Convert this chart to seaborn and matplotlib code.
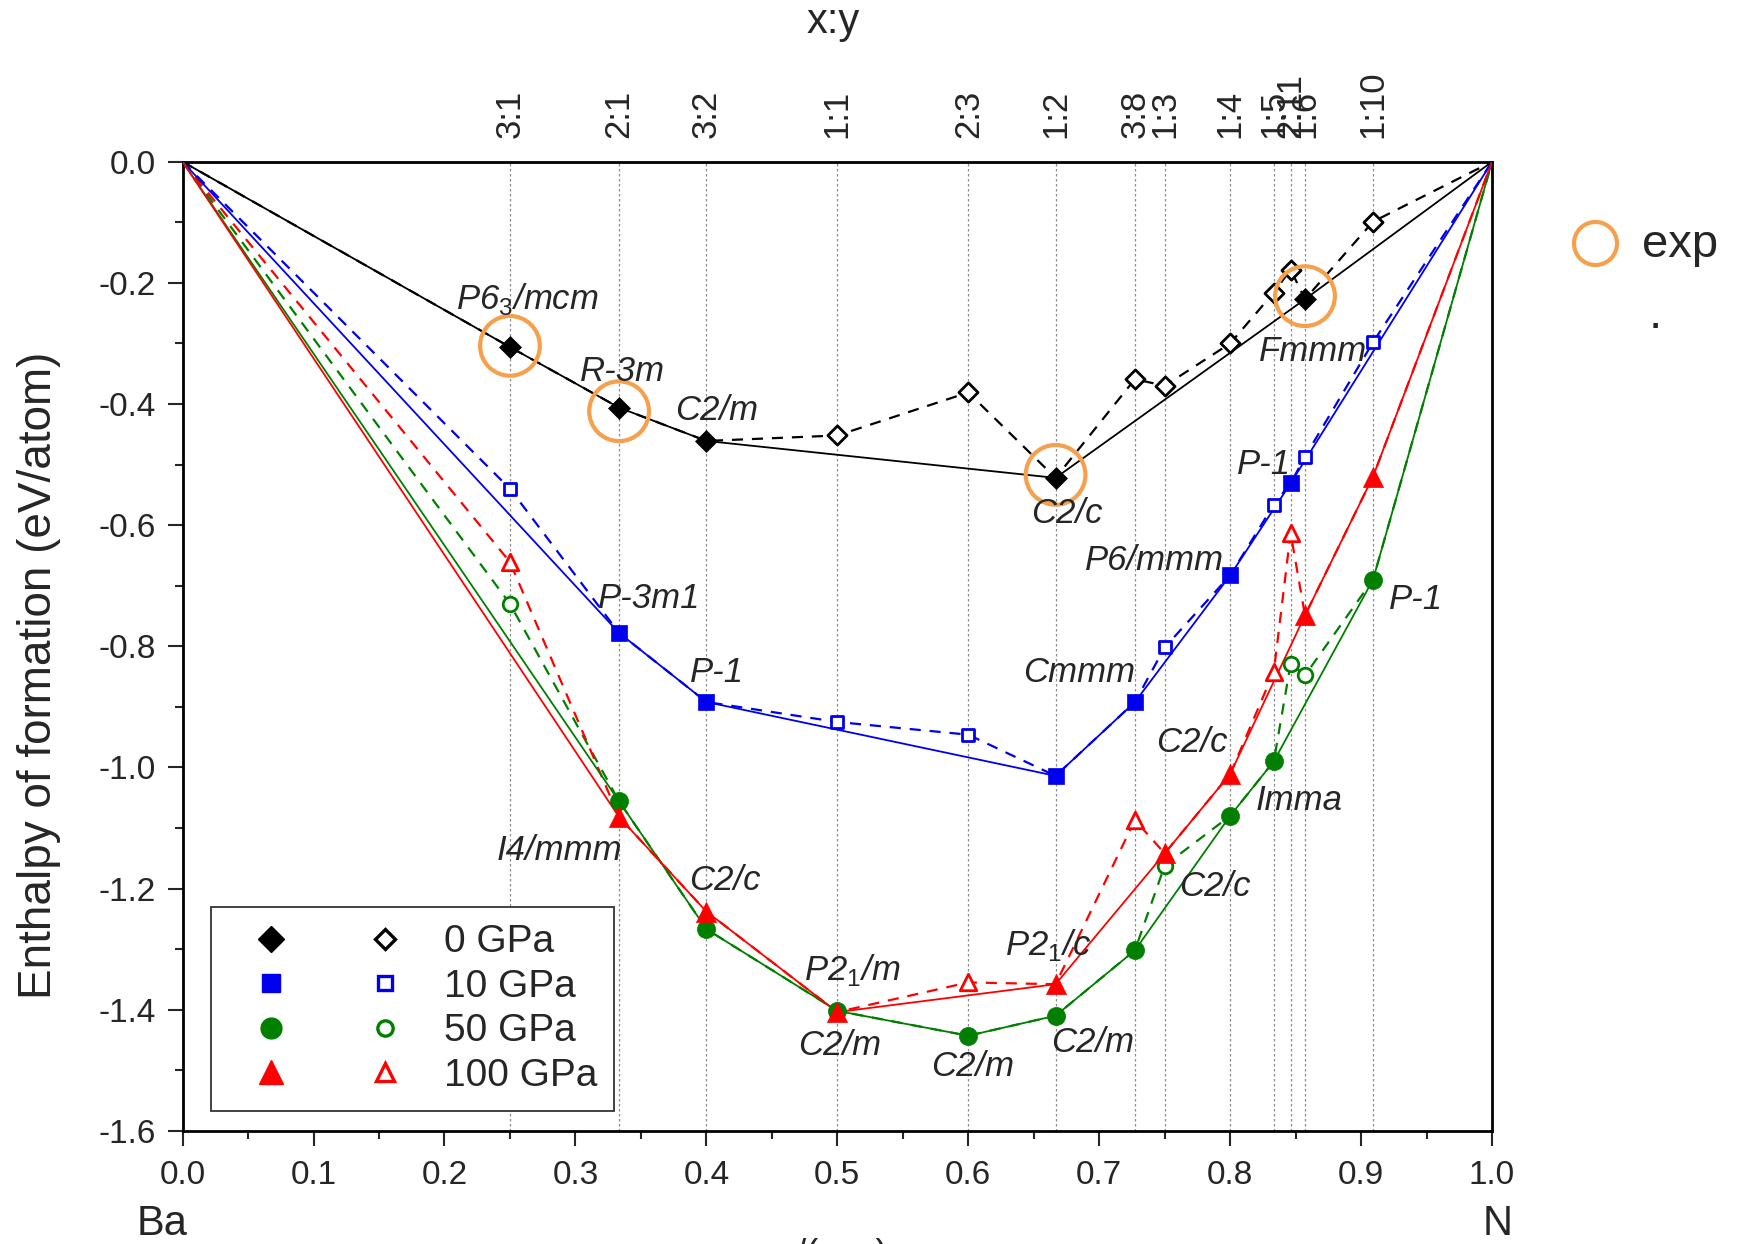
import numpy as np
import pandas as pd
import matplotlib.pyplot as plt
import seaborn as sns
from matplotlib.lines import Line2D
from matplotlib.legend_handler import HandlerTuple

# compositions N/(Ba+N) and their Ba:N ratios (top axis)
comp_x = [0.25, 1/3, 0.4, 0.5, 0.6, 2/3, 8/11, 0.75, 0.8, 5/6, 11/13, 6/7, 10/11]
comp_labels = ['3:1', '2:1', '3:2', '1:1', '2:3', '1:2', '3:8', '1:3', '1:4', '1:5', '2:11', '1:6', '1:10']

# elemental end points
ends_x = [0.0, 1.0]
ends_y = [0.0, 0.0]

# 0 GPa
gpa0_stable_x = [0.25, 1/3, 0.4, 2/3, 6/7]
gpa0_stable_y = [-0.306, -0.406, -0.461, -0.522, -0.227]
gpa0_meta_x = [0.5, 0.6, 8/11, 0.75, 0.8, 5/6, 11/13, 10/11]
gpa0_meta_y = [-0.452, -0.381, -0.359, -0.370, -0.300, -0.216, -0.178, -0.099]

# 10 GPa
gpa10_stable_x = [1/3, 0.4, 2/3, 8/11, 0.8, 11/13]
gpa10_stable_y = [-0.778, -0.892, -1.014, -0.892, -0.683, -0.531]
gpa10_meta_x = [0.25, 0.5, 0.6, 0.75, 5/6, 6/7, 10/11]
gpa10_meta_y = [-0.540, -0.925, -0.946, -0.802, -0.566, -0.487, -0.298]

# 50 GPa
gpa50_stable_x = [1/3, 0.4, 0.5, 0.6, 2/3, 8/11, 0.8, 5/6, 10/11]
gpa50_stable_y = [-1.056, -1.267, -1.402, -1.443, -1.410, -1.302, -1.080, -0.990, -0.690]
gpa50_meta_x = [0.25, 0.75, 11/13, 6/7]
gpa50_meta_y = [-0.730, -1.162, -0.829, -0.848]

# 100 GPa
gpa100_stable_x = [1/3, 0.4, 0.5, 2/3, 0.75, 0.8, 6/7, 10/11]
gpa100_stable_y = [-1.082, -1.238, -1.404, -1.358, -1.142, -1.011, -0.749, -0.520]
gpa100_meta_x = [0.25, 0.6, 8/11, 5/6, 11/13]
gpa100_meta_y = [-0.661, -1.355, -1.087, -0.842, -0.613]

# experimentally known phases
exp_x = [0.25, 1/3, 2/3, 6/7]
exp_y = [-0.304, -0.412, -0.517, -0.222]

# space-group labels: text, x, y
phase_labels = [
    ('P6$_3$/mcm', 0.263, -0.227), ('R-3m', 0.336, -0.346), ('C2/m', 0.408, -0.410),
    ('C2/c', 0.675, -0.580), ('Fmmm', 0.863, -0.313),
    ('P-3m1', 0.356, -0.721), ('P-1', 0.408, -0.844), ('Cmmm', 0.685, -0.844),
    ('P6/mmm', 0.742, -0.659), ('P-1', 0.826, -0.500),
    ('I4/mmm', 0.288, -1.137), ('C2/c', 0.414, -1.186), ('P2$_1$/m', 0.511, -1.335),
    ('C2/m', 0.502, -1.459), ('C2/m', 0.603, -1.494), ('P2$_1$/c', 0.661, -1.294),
    ('C2/m', 0.695, -1.455), ('C2/c', 0.788, -1.197), ('C2/c', 0.771, -0.959),
    ('Imma', 0.853, -1.054), ('P-1', 0.942, -0.723),
]

sns.set_style('white')
plt.rcParams['font.family'] = ['Liberation Sans', 'DejaVu Sans']
plt.rcParams['mathtext.fontset'] = 'custom'
plt.rcParams['mathtext.rm'] = 'Liberation Sans'
plt.rcParams['axes.unicode_minus'] = False

fig = plt.figure(figsize=(17.39, 12.44), dpi=100)
ax = fig.add_axes([0.105, 0.091, 0.753, 0.779])

for cx in comp_x:
    ax.axvline(cx, color='0.55', ls=(0, (2, 2)), lw=0.9, zorder=0)

series = [
    ('0 GPa', gpa0_stable_x, gpa0_stable_y, gpa0_meta_x, gpa0_meta_y, 'black', 'D', 125, 95),
    ('10 GPa', gpa10_stable_x, gpa10_stable_y, gpa10_meta_x, gpa10_meta_y, '#0000ee', 's', 125, 80),
    ('50 GPa', gpa50_stable_x, gpa50_stable_y, gpa50_meta_x, gpa50_meta_y, '#007f00', 'o', 170, 110),
    ('100 GPa', gpa100_stable_x, gpa100_stable_y, gpa100_meta_x, gpa100_meta_y, '#ff0000', '^', 210, 140),
]

handles = []
labels = []
for name, sx, sy, mx, my, col, mk, s_full, s_open in series:
    solid = pd.DataFrame({'x': ends_x + sx, 'y': ends_y + sy}).sort_values('x')
    dashed = pd.DataFrame({'x': ends_x + sx + mx, 'y': ends_y + sy + my}).sort_values('x')
    sns.lineplot(data=dashed, x='x', y='y', color=col, lw=1.6, linestyle=(0, (5, 4)),
                 sort=True, estimator=None, ax=ax, zorder=2)
    sns.lineplot(data=solid, x='x', y='y', color=col, lw=1.3,
                 sort=True, estimator=None, ax=ax, zorder=3)
    sns.scatterplot(x=sx, y=sy, marker=mk, s=s_full, color=col, edgecolor=col,
                    linewidth=0.5, ax=ax, zorder=4)
    sns.scatterplot(x=mx, y=my, marker=mk, s=s_open, facecolor='white', edgecolor=col,
                    linewidth=2.0, ax=ax, zorder=4)
    h_full = Line2D([], [], ls='none', marker=mk, ms=np.sqrt(s_full) * 1.15, color=col, mec=col)
    h_open = Line2D([], [], ls='none', marker=mk, ms=np.sqrt(s_open) * 1.05, mfc='white', mec=col, mew=2.4)
    handles.append((h_full, h_open))
    labels.append(name)

orange = '#f6a04d'
sns.scatterplot(x=exp_x, y=exp_y, marker='o', s=1850, facecolor='none', edgecolor=orange,
                linewidth=3, ax=ax, zorder=5)

for txt, tx, ty in phase_labels:
    ax.text(tx, ty, txt, fontsize=25, style='italic', color='0.15', ha='center', va='center', zorder=6)

fmt = plt.FuncFormatter(lambda v, p: f'{v:.1f}'.replace('-0.0', '0.0'))
ax.set_xlim(0, 1)
ax.set_ylim(-1.6, 0)
ax.set_xticks(np.arange(0, 1.01, 0.1))
ax.set_xticks(np.arange(0.05, 1.0, 0.1), minor=True)
ax.set_yticks(np.arange(-1.6, 0.01, 0.2))
ax.set_yticks(np.arange(-1.5, 0.0, 0.2), minor=True)
ax.xaxis.set_major_formatter(fmt)
ax.yaxis.set_major_formatter(fmt)
ax.tick_params(axis='both', which='major', direction='out', length=11, width=1.5, labelsize=24,
               bottom=True, left=True, top=False, right=False)
ax.tick_params(axis='both', which='minor', direction='out', length=6, width=1.5,
               bottom=True, left=True, top=False, right=False)
ax.tick_params(axis='x', pad=10)
ax.tick_params(axis='y', pad=8)
ax.set_xlabel('')
ax.set_ylabel('')
for sp in ax.spines.values():
    sp.set_color('black')
    sp.set_linewidth(2)

top = ax.secondary_xaxis('top')
top.set_xticks(comp_x, labels=comp_labels)
top.tick_params(length=0, pad=17, labelsize=25, labelrotation=90)

leg = ax.legend(handles, labels, handler_map={tuple: HandlerTuple(ndivide=None, pad=0.78)},
                loc='lower left', bbox_to_anchor=(0.022, 0.02), fontsize=28,
                handlelength=5.1, handletextpad=0.42, labelspacing=0.22, borderpad=0.45,
                borderaxespad=0, fancybox=False, framealpha=1, edgecolor='0.2')
leg.get_frame().set_linewidth(1.3)

fig.text(0.0224, 0.457, 'Enthalpy of formation (eV/atom)', rotation=90, ha='center', va='center', fontsize=33)
fig.text(0.479, 0.982, 'x:y', ha='center', va='center', fontsize=30)
fig.text(0.093, 0.016, 'Ba', ha='center', va='center', fontsize=30)
fig.text(0.861, 0.016, 'N', ha='center', va='center', fontsize=30)
fig.text(0.479, 0.005, 'x/(x+y)', ha='center', va='top', fontsize=26)

fig.add_artist(Line2D([0.917], [0.805], transform=fig.transFigure, marker='o', ms=31,
                      mfc='none', mec=orange, mew=3, ls='none'))
fig.text(0.944, 0.803, 'exp', ha='left', va='center', fontsize=34)
fig.text(0.948, 0.746, '.', ha='left', va='center', fontsize=34)

fig.savefig('out.png', dpi=100)
